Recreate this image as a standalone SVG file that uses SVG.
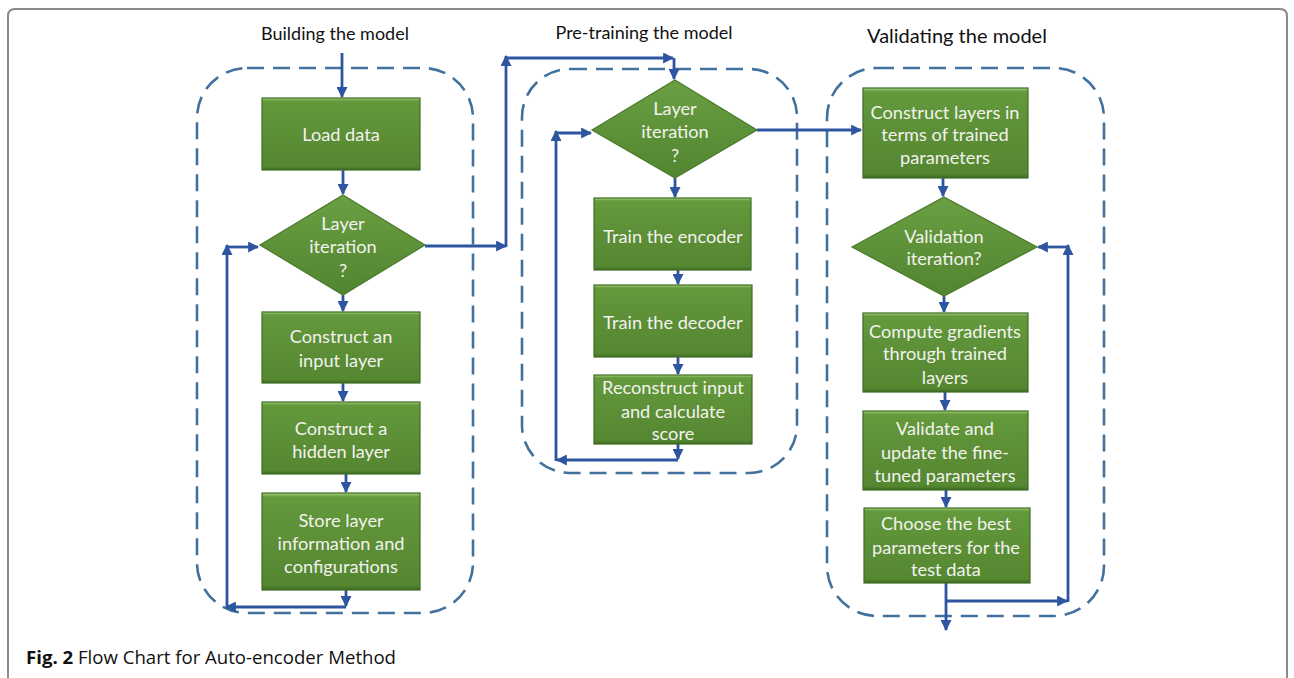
<svg xmlns="http://www.w3.org/2000/svg" width="1294" height="678" viewBox="0 0 1294 678">
<defs>
<style>
.frame{fill:none;stroke:#8a8a8a;stroke-width:2}
.dash{fill:none;stroke:#41719c;stroke-width:2.6;stroke-dasharray:17 9}
.box{fill:url(#gbox);stroke:#3f6b24;stroke-width:1.2}
.dia{fill:url(#gdia);stroke:#4a7a2a;stroke-width:1.2}
.con{fill:none;stroke:#2e56a0;stroke-width:2.8}
.arr{marker-end:url(#ah)}
.t{font-family:Lato,"Liberation Sans",sans-serif;font-size:18.2px;fill:#f2f2ee;text-anchor:middle;dominant-baseline:central}
.title{font-family:Lato,"Liberation Sans",sans-serif;font-size:18px;fill:#111;text-anchor:middle}
.cap{font-family:"Open Sans","Liberation Sans",sans-serif;font-size:18.6px;fill:#111}
</style>
<linearGradient id="gbox" x1="0" y1="0" x2="0" y2="1">
<stop offset="0" stop-color="#a8d57e"/>
<stop offset="0.04" stop-color="#64993c"/>
<stop offset="0.5" stop-color="#5c8f36"/>
<stop offset="0.95" stop-color="#558731"/>
<stop offset="1" stop-color="#3d6a22"/>
</linearGradient>
<linearGradient id="gdia" x1="0" y1="0" x2="0" y2="1">
<stop offset="0" stop-color="#6a9f42"/>
<stop offset="1" stop-color="#528530"/>
</linearGradient>
<marker id="ah" viewBox="0 0 10 10" refX="9" refY="5" markerWidth="11" markerHeight="11" markerUnits="userSpaceOnUse" orient="auto">
<path d="M0,0 L10,5 L0,10 z" fill="#2e56a0"/>
</marker>
</defs>
<rect width="1294" height="678" fill="#fff"/>
<path class="frame" d="M8,678 V16 Q8,9 15,9 H1280 Q1287,9 1287,16 V678"/>

<text class="title" x="335" y="40">Building the model</text>
<text class="title" x="644" y="39">Pre-training the model</text>
<text class="title" x="957" y="43" style="font-size:20px">Validating the model</text>

<g id="panel-build"><rect class="dash" x="197" y="68" width="276" height="545" rx="50"/></g>
<g id="panel-pretrain"><rect class="dash" x="522" y="69" width="275" height="404" rx="48"/></g>
<g id="panel-validate"><rect class="dash" x="827" y="68" width="277" height="548" rx="50"/></g>

<g id="connectors">
<path class="con arr" d="M342,53 V97"/>
<path class="con arr" d="M343,170 V194"/>
<path class="con arr" d="M343,295 V311"/>
<path class="con arr" d="M343,383 V401"/>
<path class="con arr" d="M346,474 V492"/>
<path class="con arr" d="M346,590 V606"/>
<path class="con arr" d="M346,607 H226"/>
<path class="con arr" d="M227,608 V245"/>
<path class="con arr" d="M227,247 H258"/>
<path class="con arr" d="M425,246 H506"/>
<path class="con arr" d="M506,247 V56"/>
<path class="con arr" d="M506,58 H673"/>
<path class="con arr" d="M674,58 V79"/>
<path class="con arr" d="M675,178 V197"/>
<path class="con arr" d="M678,270 V284"/>
<path class="con arr" d="M678,357 V374"/>
<path class="con arr" d="M678,444 V459"/>
<path class="con arr" d="M678,460 H557"/>
<path class="con arr" d="M556,461 V131"/>
<path class="con arr" d="M556,133 H591"/>
<path class="con arr" d="M757,130 H861"/>
<path class="con arr" d="M943,178 V196"/>
<path class="con arr" d="M944,296 V312"/>
<path class="con arr" d="M945,392 V410"/>
<path class="con arr" d="M946,490 V507"/>
<path class="con arr" d="M946,583 V630"/>
<path class="con arr" d="M946,601 H1067"/>
<path class="con arr" d="M1068,602 V245"/>
<path class="con arr" d="M1068,247 H1038"/>
</g>

<g id="load-data"><rect class="box" x="262" y="98" width="158" height="72"/><text class="t" x="341" y="134">Load data</text></g>
<g id="layer-iter-1"><polygon class="dia" points="343,195 425,245 343,295 260,245"/><text class="t" x="343" y="223">Layer</text><text class="t" x="343" y="246">iteration</text><text class="t" x="343" y="270">?</text></g>
<g id="input-layer"><rect class="box" x="262" y="312" width="158" height="71"/><text class="t" x="341" y="336">Construct an</text><text class="t" x="341" y="360">input layer</text></g>
<g id="hidden-layer"><rect class="box" x="262" y="402" width="158" height="72"/><text class="t" x="341" y="428">Construct a</text><text class="t" x="341" y="451">hidden layer</text></g>
<g id="store-layer"><rect class="box" x="262" y="493" width="158" height="97"/><text class="t" x="341" y="520">Store layer</text><text class="t" x="341" y="543">information and</text><text class="t" x="341" y="566">configurations</text></g>

<g id="layer-iter-2"><polygon class="dia" points="675,80 757,130 675,178 592,130"/><text class="t" x="675" y="108">Layer</text><text class="t" x="675" y="131">iteration</text><text class="t" x="675" y="155">?</text></g>
<g id="train-encoder"><rect class="box" x="594" y="198" width="157" height="72"/><text class="t" x="673" y="236">Train the encoder</text></g>
<g id="train-decoder"><rect class="box" x="594" y="285" width="158" height="72"/><text class="t" x="673" y="322">Train the decoder</text></g>
<g id="reconstruct"><rect class="box" x="594" y="375" width="158" height="69"/><text class="t" x="673" y="387">Reconstruct input</text><text class="t" x="673" y="411">and calculate</text><text class="t" x="673" y="433">score</text></g>

<g id="construct-trained"><rect class="box" x="863" y="88" width="165" height="90"/><text class="t" x="945" y="112">Construct layers in</text><text class="t" x="945" y="134">terms of trained</text><text class="t" x="945" y="157">parameters</text></g>
<g id="validation-iter"><polygon class="dia" points="944,197 1037,247 944,296 852,247"/><text class="t" x="944" y="236">Validation</text><text class="t" x="944" y="258">iteration?</text></g>
<g id="compute-gradients"><rect class="box" x="863" y="313" width="165" height="79"/><text class="t" x="945" y="331">Compute gradients</text><text class="t" x="945" y="353">through trained</text><text class="t" x="945" y="377">layers</text></g>
<g id="validate-update"><rect class="box" x="863" y="411" width="165" height="79"/><text class="t" x="945" y="428">Validate and</text><text class="t" x="945" y="452">update the fine-</text><text class="t" x="945" y="475">tuned parameters</text></g>
<g id="choose-best"><rect class="box" x="864" y="508" width="166" height="75"/><text class="t" x="946" y="523">Choose the best</text><text class="t" x="946" y="547">parameters for the</text><text class="t" x="946" y="569">test data</text></g>

<text class="cap" x="26" y="664"><tspan font-weight="bold">Fig. 2</tspan> Flow Chart for Auto-encoder Method</text>
</svg>
